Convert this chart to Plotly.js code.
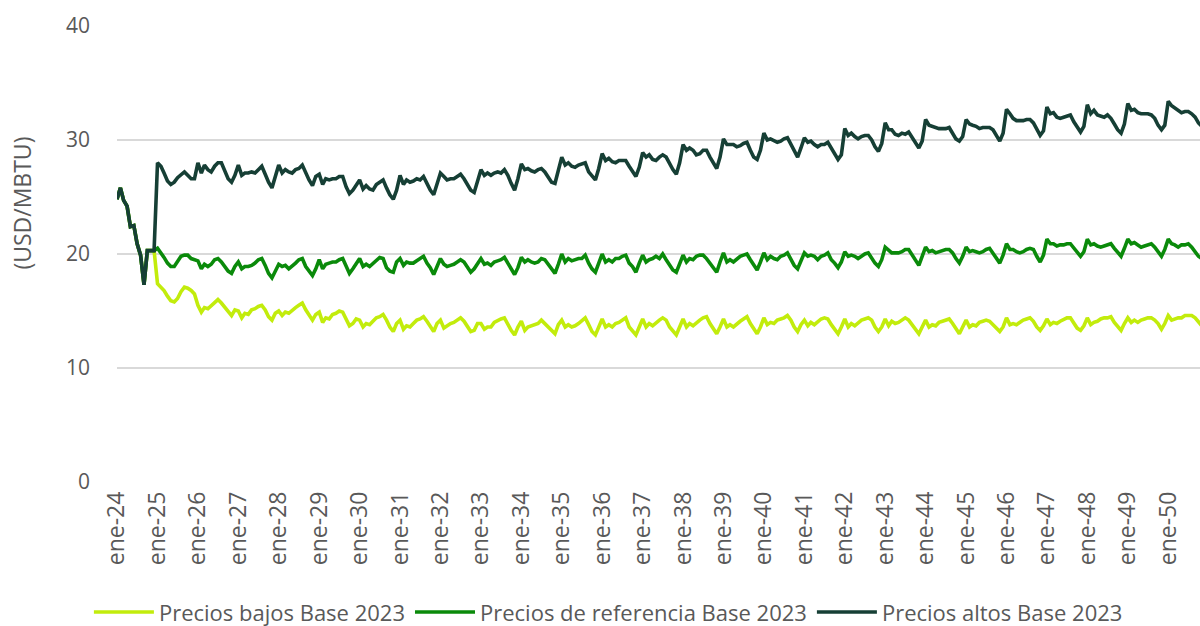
<!DOCTYPE html>
<html>
<head>
<meta charset="utf-8">
<script src="https://cdn.plot.ly/plotly-3.0.1.min.js"></script>
<style>html,body{margin:0;padding:0;background:#fff;}#chart{width:1200px;height:626px;}</style>
</head>
<body>
<div id="chart"></div>
<script>
// Monthly series, ene-24 onward (USD/MBTU)
const startYear = 2024;
const seriesNames = ["Precios bajos Base 2023", "Precios de referencia Base 2023", "Precios altos Base 2023"];
const tickLabels = ["ene-24","ene-25","ene-26","ene-27","ene-28","ene-29","ene-30","ene-31","ene-32","ene-33","ene-34","ene-35","ene-36","ene-37","ene-38","ene-39","ene-40","ene-41","ene-42","ene-43","ene-44","ene-45","ene-46","ene-47","ene-48","ene-49","ene-50"];

const preciosBajos = [
24.8,25.8,24.7,24.2,22.4,22.5,20.9,19.9,17.3,20.3,20.3,20.3,
17.4,17.1,16.8,16.3,15.9,15.8,16.1,16.7,17.1,17.0,16.8,16.5,
15.5,14.9,15.3,15.2,15.5,15.8,16.0,15.7,15.3,14.9,14.6,15.1,
15.0,14.4,14.8,14.7,15.1,15.2,15.4,15.5,15.1,14.5,14.2,14.8,
15.0,14.6,14.9,14.8,15.1,15.3,15.5,15.7,15.1,14.6,14.2,14.7,
14.9,14.0,14.4,14.3,14.7,14.8,15.0,14.9,14.3,13.7,13.9,14.3,
14.2,13.6,13.9,13.8,14.1,14.4,14.5,14.7,14.2,13.6,13.2,13.9,
14.2,13.4,13.7,13.6,13.9,14.2,14.3,14.5,14.1,13.6,13.2,13.9,
14.2,13.5,13.7,13.9,14.0,14.2,14.4,14.1,13.6,13.2,13.3,13.9,
13.9,13.4,13.6,13.6,14.0,14.2,14.3,14.4,13.8,13.3,12.9,13.6,
14.1,13.3,13.6,13.7,13.8,13.9,14.2,13.9,13.6,13.2,13.0,13.8,
14.2,13.6,13.8,13.6,13.7,13.9,14.1,14.4,13.8,13.2,12.9,13.6,
14.3,13.6,13.8,13.6,13.9,14.0,14.2,14.4,13.6,13.2,12.9,13.6,
14.3,13.6,13.9,13.7,14.0,14.2,14.4,14.2,13.6,13.2,12.9,13.6,
14.3,13.6,13.9,13.7,14.0,14.2,14.4,14.5,13.9,13.5,13.0,13.6,
14.3,13.6,13.8,13.6,13.9,14.1,14.3,14.5,13.9,13.5,13.0,13.6,
14.4,13.8,14.0,13.9,14.2,14.3,14.4,14.6,14.2,13.6,13.2,13.8,
14.2,13.7,14.0,13.8,14.1,14.3,14.4,14.3,13.8,13.4,13.0,13.6,
14.3,13.6,13.9,13.7,13.9,14.2,14.3,14.4,14.2,13.6,13.2,13.6,
14.3,13.7,14.1,13.9,14.0,14.2,14.4,14.2,13.8,13.3,13.0,13.6,
14.2,13.6,13.8,13.7,14.0,14.1,14.2,14.3,13.9,13.4,13.0,13.6,
14.2,13.6,13.8,13.7,14.0,14.1,14.2,14.1,13.8,13.5,13.2,13.6,
14.4,13.8,13.9,13.8,14.0,14.2,14.3,14.4,14.1,13.6,13.3,13.7,
14.3,13.8,14.0,13.9,14.1,14.3,14.4,14.4,14.0,13.5,13.3,13.7,
14.4,13.8,14.0,14.1,14.3,14.4,14.4,14.5,14.0,13.6,13.3,13.9,
14.4,14.0,14.2,14.0,14.2,14.3,14.4,14.4,14.2,13.9,13.4,13.9,
14.6,14.2,14.3,14.4,14.4,14.6,14.6,14.6,14.4,14.0,13.7,14.1
];

const preciosReferencia = [
24.8,25.8,24.7,24.2,22.4,22.5,20.9,19.9,17.3,20.3,20.3,20.3,
20.5,20.1,19.7,19.2,18.9,18.9,19.3,19.8,19.9,19.9,19.6,19.5,
19.4,18.7,19.1,18.9,19.1,19.5,19.6,19.3,18.9,18.5,18.3,18.9,
19.3,18.7,18.9,18.9,19.0,19.2,19.5,19.6,19.0,18.3,17.9,18.5,
19.1,18.9,19.0,18.7,18.9,19.2,19.5,19.6,18.9,18.5,18.1,18.7,
19.5,18.7,19.1,19.2,19.3,19.3,19.5,19.6,18.9,18.3,18.7,19.2,
19.6,18.9,19.1,18.9,19.2,19.5,19.7,19.6,18.8,18.5,18.4,19.3,
19.6,19.0,19.3,19.2,19.2,19.4,19.6,19.8,19.2,18.8,18.2,18.9,
19.6,19.1,18.9,19.0,19.1,19.3,19.5,19.3,18.8,18.4,18.7,19.2,
19.6,19.1,19.2,19.0,19.3,19.4,19.5,19.7,19.2,18.7,18.2,18.8,
19.7,19.3,19.5,19.3,19.2,19.3,19.6,19.5,19.1,18.6,18.3,19.1,
20.0,19.3,19.6,19.4,19.5,19.6,19.6,19.9,19.2,18.7,18.4,19.2,
20.0,19.3,19.5,19.3,19.6,19.6,19.8,19.9,19.2,18.9,18.4,19.2,
19.9,19.3,19.5,19.6,19.8,19.6,20.0,19.5,19.0,18.6,18.4,19.2,
19.9,19.3,19.6,19.5,19.8,19.9,19.9,19.6,19.2,18.9,18.4,19.3,
20.1,19.3,19.5,19.3,19.6,19.8,19.9,20.0,19.5,19.0,18.6,19.3,
20.1,19.5,19.8,19.6,19.5,19.8,19.9,20.1,19.5,19.0,18.7,19.5,
20.1,19.8,19.9,19.8,19.5,19.8,19.9,20.1,19.5,19.2,18.8,19.3,
20.2,19.8,19.9,19.8,19.6,19.8,20.0,20.1,19.6,19.2,18.9,19.5,
20.6,20.3,20.1,20.1,20.1,20.2,20.4,20.4,19.9,19.5,19.0,19.8,
20.6,20.2,20.3,20.1,20.2,20.3,20.4,20.4,20.1,19.6,19.2,19.8,
20.6,20.2,20.3,20.2,20.1,20.2,20.4,20.5,20.1,19.6,19.2,19.9,
20.9,20.4,20.4,20.2,20.1,20.2,20.4,20.5,20.4,19.8,19.3,19.9,
21.3,20.9,20.9,20.7,20.8,20.8,20.9,20.9,20.5,20.1,19.8,20.2,
21.3,20.8,20.9,20.7,20.6,20.7,20.8,20.9,20.5,20.1,19.8,20.5,
21.3,20.9,21.0,20.8,20.6,20.7,20.8,20.9,20.6,20.2,19.8,20.4,
21.3,20.9,20.8,20.6,20.8,20.8,20.9,20.6,20.2,19.8,19.6,20.1
];

const preciosAltos = [
24.8,25.8,24.7,24.2,22.4,22.5,20.9,19.9,17.3,20.3,20.3,20.3,
28.0,27.7,27.1,26.4,26.1,26.3,26.7,27.0,27.2,26.9,26.6,26.6,
28.0,27.1,27.8,27.4,27.2,27.7,28.0,28.0,27.2,26.6,26.3,26.9,
27.8,26.9,27.1,27.1,27.2,27.1,27.4,27.7,27.0,26.3,25.8,26.8,
27.8,27.1,27.4,27.2,27.1,27.4,27.5,27.8,27.1,26.5,26.0,26.8,
27.0,26.1,26.6,26.5,26.6,26.6,26.8,26.8,25.9,25.3,25.6,26.1,
26.5,25.7,26.0,25.7,25.6,26.1,26.3,26.5,25.8,25.2,24.8,25.6,
26.9,26.1,26.5,26.3,26.4,26.6,26.5,26.8,26.2,25.6,25.2,26.1,
27.1,26.8,26.5,26.6,26.6,26.8,27.0,26.6,26.1,25.6,25.4,26.5,
27.4,26.9,27.1,26.9,27.1,27.2,27.1,27.4,26.9,26.2,25.6,26.6,
27.9,27.4,27.5,27.3,27.2,27.4,27.5,27.2,26.8,26.3,26.2,27.4,
28.5,27.8,28.0,27.7,27.6,27.8,27.9,28.0,27.2,26.8,26.5,27.5,
28.8,28.2,28.4,28.1,28.0,28.2,28.2,28.2,27.7,27.2,26.8,27.6,
28.9,28.5,28.7,28.3,28.2,28.5,28.7,28.5,27.9,27.4,27.0,28.0,
29.6,29.1,29.3,29.1,28.7,28.8,29.1,29.1,28.5,28.0,27.5,28.5,
30.1,29.6,29.6,29.6,29.4,29.5,29.7,29.8,29.1,28.5,28.3,29.1,
30.6,30.0,30.1,29.9,29.8,29.9,30.1,30.2,29.6,29.0,28.5,29.3,
30.2,29.8,29.9,29.6,29.4,29.6,29.6,29.8,29.3,28.7,28.3,28.7,
31.0,30.4,30.6,30.3,30.1,30.3,30.4,30.4,30.0,29.4,29.0,29.7,
31.5,30.9,30.9,30.5,30.4,30.6,30.5,30.7,30.2,29.7,29.3,29.9,
31.8,31.3,31.2,31.1,31.0,31.0,31.0,31.1,30.6,30.1,29.9,30.3,
31.8,31.4,31.3,31.2,31.0,31.1,31.1,31.1,30.9,30.4,29.9,30.6,
32.7,32.3,31.9,31.7,31.7,31.7,31.8,31.8,31.5,30.9,30.4,30.8,
32.9,32.3,32.4,32.0,31.9,32.0,32.1,32.2,31.6,31.1,30.7,31.2,
33.1,32.3,32.6,32.2,32.1,32.0,32.2,31.9,31.4,30.9,30.6,31.4,
33.2,32.6,32.7,32.4,32.3,32.3,32.3,32.2,31.9,31.3,30.9,31.3,
33.4,33.0,32.8,32.6,32.4,32.5,32.5,32.3,32.0,31.5,31.2,31.6
];

function monthDates(n) {
  const out = [];
  for (let i = 0; i < n; i++) {
    const y = startYear + Math.floor(i / 12);
    const m = (i % 12) + 1;
    out.push(y + "-" + String(m).padStart(2, "0") + "-01");
  }
  return out;
}
const tickVals = tickLabels.map((t, i) => (startYear + i) + "-01-01");

const colors = ["#C2EC0C", "#0A8A0A", "#163F35"];
const values = [preciosBajos, preciosReferencia, preciosAltos];

const traces = values.map((v, i) => ({
  type: "scatter",
  mode: "lines",
  name: seriesNames[i],
  x: monthDates(v.length),
  y: v,
  line: { color: colors[i], width: 3.6, shape: "linear" },
  hoverinfo: "x+y+name"
}));

const fontFam = "'Open Sans', 'Noto Sans', sans-serif";
const gray = "#595959";

const layout = {
  width: 1200,
  height: 626,
  margin: { l: 117, r: 0, t: 26, b: 144, pad: 0 },
  paper_bgcolor: "#ffffff",
  plot_bgcolor: "#ffffff",
  font: { family: fontFam, color: gray, size: 21 },
  showlegend: true,
  legend: {
    orientation: "h",
    xref: "container", yref: "container",
    x: 0.507, xanchor: "center",
    y: 0.022, yanchor: "middle",
    font: { family: fontFam, size: 22, color: gray },
    itemwidth: 60,
    tracegroupgap: 0,
    traceorder: "normal"
  },
  xaxis: {
    type: "date",
    range: ["2024-01-01", "2050-10-15"],
    tickmode: "array",
    tickvals: tickVals,
    ticktext: tickLabels,
    tickangle: -90,
    tickfont: { family: fontFam, size: 23, color: gray },
    showgrid: false,
    zeroline: false,
    showline: false,
    ticks: "",
    ticklabelstandoff: 4,
    fixedrange: true
  },
  yaxis: {
    range: [0, 40],
    tickmode: "linear",
    tick0: 0,
    dtick: 10,
    tickfont: { family: fontFam, size: 21, color: gray },
    gridcolor: "#D9D9D9",
    gridwidth: 1.3,
    zeroline: false,
    showline: false,
    ticks: "",
    ticklabelstandoff: 26,
    fixedrange: true
  },
  annotations: [{
    text: "(USD/MBTU)",
    xref: "paper", yref: "paper",
    x: -0.088, y: 0.612,
    xanchor: "center", yanchor: "middle",
    textangle: -90,
    showarrow: false,
    font: { family: fontFam, size: 23, color: gray }
  }]
};

Plotly.newPlot("chart", traces, layout, { displayModeBar: false, staticPlot: true });
</script>
</body>
</html>
